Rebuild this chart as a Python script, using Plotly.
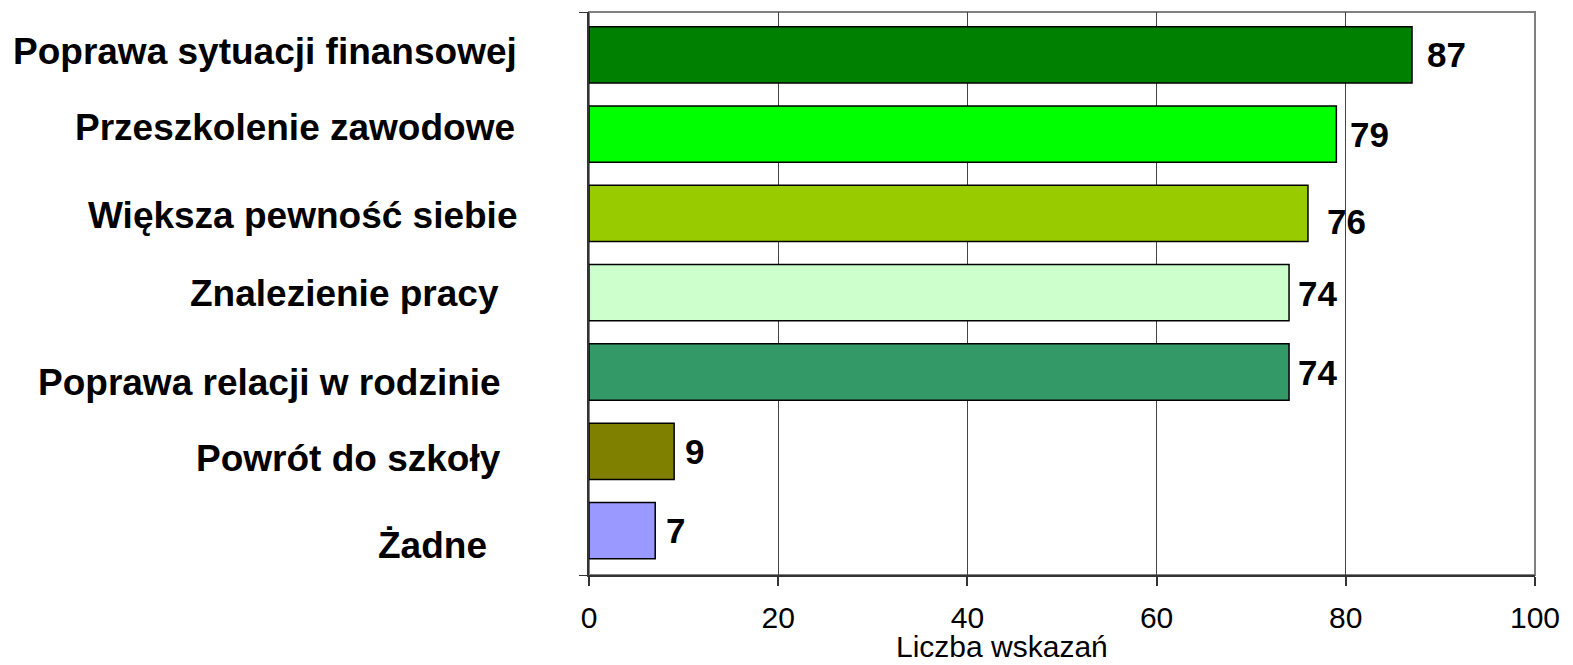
import plotly.graph_objects as go

categories = [
    'Poprawa sytuacji finansowej',
    'Przeszkolenie zawodowe',
    'Większa pewność siebie',
    'Znalezienie pracy',
    'Poprawa relacji w rodzinie',
    'Powrót do szkoły',
    'Żadne',
]
values = [87, 79, 76, 74, 74, 9, 7]
colors = ['#008000', '#00FF00', '#99CC00', '#CCFFCC', '#339966', '#808000', '#9999FF']
tick_vals = [0, 20, 40, 60, 80, 100]
axis_title = 'Liczba wskazań'

# nudges so the labels sit like in the original (trailing-space look)
label_xshift = [-70, -72, -70, -88, -86, -86, -100]
label_yshift = [3, 7, -2, -1, -10, -7, -15]
value_xshift = [13, 12, 17, 7, 7, 9, 9]
value_yshift = [0, 0, -8, -1, 0, 0, 0]

FONT = 'Liberation Sans, Arial, sans-serif'
Y_RANGE = [6.56, -0.54]

fig = go.Figure()
fig.add_trace(go.Bar(
    x=values,
    y=list(range(len(categories))),
    orientation='h',
    width=0.71,
    marker=dict(color=colors, line=dict(width=1.5, color='black')),
    hoverinfo='x',
    showlegend=False,
))

annotations = []
for i, (cat, v) in enumerate(zip(categories, values)):
    # category label on the left
    annotations.append(dict(
        x=0, xref='paper', y=i, yref='y', text=f'<b>{cat}</b>',
        xanchor='right', yanchor='middle', showarrow=False,
        xshift=label_xshift[i], yshift=label_yshift[i],
        font=dict(family=FONT, size=37, color='black'),
    ))
    # value at bar end
    annotations.append(dict(
        x=v, xref='x', y=i, yref='y', text=f'<b>{v}</b>',
        xanchor='left', yanchor='middle', showarrow=False,
        xshift=value_xshift[i], yshift=value_yshift[i],
        font=dict(family=FONT, size=35, color='black'),
    ))

annotations.append(dict(
    x=(994 - 581) / 946, xref='paper', y=0, yref='paper', yshift=-71,
    text=axis_title, xanchor='center', yanchor='middle', showarrow=False,
    font=dict(family=FONT, size=30, color='black'),
))

# page body has an 8px margin, so the figure is sized/offset for it
fig.update_layout(
    width=1565,
    height=657,
    margin=dict(l=581, r=38, t=4, b=90),
    plot_bgcolor='white',
    paper_bgcolor='white',
    annotations=annotations,
    shapes=[dict(type='rect', xref='paper', yref='paper', x0=0, y0=0, x1=1, y1=1,
                 line=dict(color='#808080', width=2), layer='below')],
    xaxis=dict(
        range=[0, 100], tickvals=tick_vals, showgrid=True, gridcolor='#444444', gridwidth=1,
        showline=True, linecolor='#333333', linewidth=2, ticks='outside', ticklen=9,
        tickcolor='#333333', tickwidth=1.5, zeroline=False, ticklabelstandoff=6,
        tickfont=dict(family=FONT, size=30, color='black'),
    ),
    yaxis=dict(
        range=Y_RANGE, tickvals=Y_RANGE, ticks='outside', ticklen=8, tickcolor='#333333',
        showticklabels=False, showgrid=False, zeroline=False,
        showline=True, linecolor='#333333', linewidth=2,
    ),
)

fig.write_html('out.html')
